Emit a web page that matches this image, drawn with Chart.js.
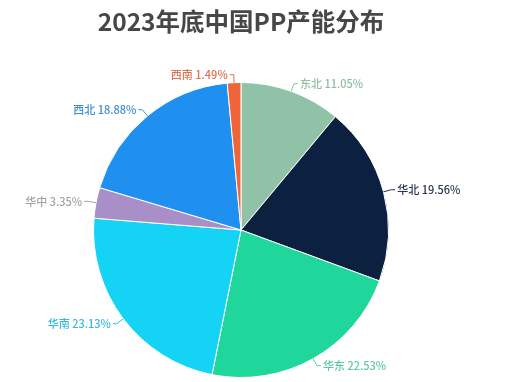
<!DOCTYPE html>
<html>
<head>
<meta charset="utf-8">
<script src="https://cdn.jsdelivr.net/npm/chart.js@4"></script>
<style>
  html, body { margin: 0; padding: 0; background: #fff; }
  #wrap { width: 518px; height: 382px; }
</style>
</head>
<body>
<div id="wrap"><canvas id="pie"></canvas></div>
<script>
const regions = ['东北', '华北', '华东', '华南', '华中', '西北', '西南'];
const shares = [11.05, 19.56, 22.53, 23.13, 3.35, 18.88, 1.49];
const sliceColors = ['#8fc2a6', '#0c203f', '#1fd79a', '#14d3f4', '#a88fc7', '#1f8ff0', '#f0643a'];
const labelColors = ['#8dbfa3', '#2b3650', '#5cc9a0', '#3ab6de', '#a2a0a8', '#3f8fcf', '#de7352'];

const FONT = '"Noto Sans CJK SC", "Noto Sans", sans-serif';

// draws "name pct%" outside each slice with a small leader line
const outsideLabels = {
  id: 'outsideLabels',
  afterDatasetsDraw(chart) {
    const ctx = chart.ctx;
    const meta = chart.getDatasetMeta(0);
    ctx.save();
    ctx.font = '500 11px ' + FONT;
    ctx.textBaseline = 'middle';
    meta.data.forEach((arc, i) => {
      const p = arc.getProps(['x', 'y', 'startAngle', 'endAngle', 'outerRadius']);
      const mid = (p.startAngle + p.endAngle) / 2;
      const cos = Math.cos(mid), sin = Math.sin(mid);
      const x0 = p.x + cos * p.outerRadius;
      const y0 = p.y + sin * p.outerRadius;
      const x1 = p.x + cos * (p.outerRadius + 8);
      const y1 = p.y + sin * (p.outerRadius + 8);
      const right = cos >= 0;
      const x2 = x1 + (right ? 4 : -4);
      ctx.strokeStyle = labelColors[i];
      ctx.lineWidth = 1;
      ctx.beginPath();
      ctx.moveTo(x0, y0);
      ctx.lineTo(x1, y1);
      ctx.lineTo(x2, y1);
      ctx.stroke();
      ctx.fillStyle = labelColors[i];
      ctx.textAlign = right ? 'left' : 'right';
      ctx.fillText(regions[i] + ' ' + shares[i].toFixed(2) + '%', x2 + (right ? 2 : -2), y1);
    });
    ctx.restore();
  }
};

new Chart(document.getElementById('pie'), {
  type: 'pie',
  data: {
    labels: regions,
    datasets: [{
      data: shares,
      backgroundColor: sliceColors,
      borderColor: '#ffffff',
      borderWidth: 1
    }]
  },
  options: {
    responsive: true,
    maintainAspectRatio: false,
    animation: false,
    layout: { padding: { top: 0, bottom: 4, left: 93, right: 129 } },
    plugins: {
      legend: { display: false },
      tooltip: { enabled: false },
      title: {
        display: true,
        text: '2023年底中国PP产能分布',
        color: '#474747',
        font: { family: FONT, size: 24.5, weight: 'bold', lineHeight: 1.2 },
        padding: { top: 7, bottom: 45.6 }
      }
    }
  },
  plugins: [outsideLabels]
});
</script>
</body>
</html>
